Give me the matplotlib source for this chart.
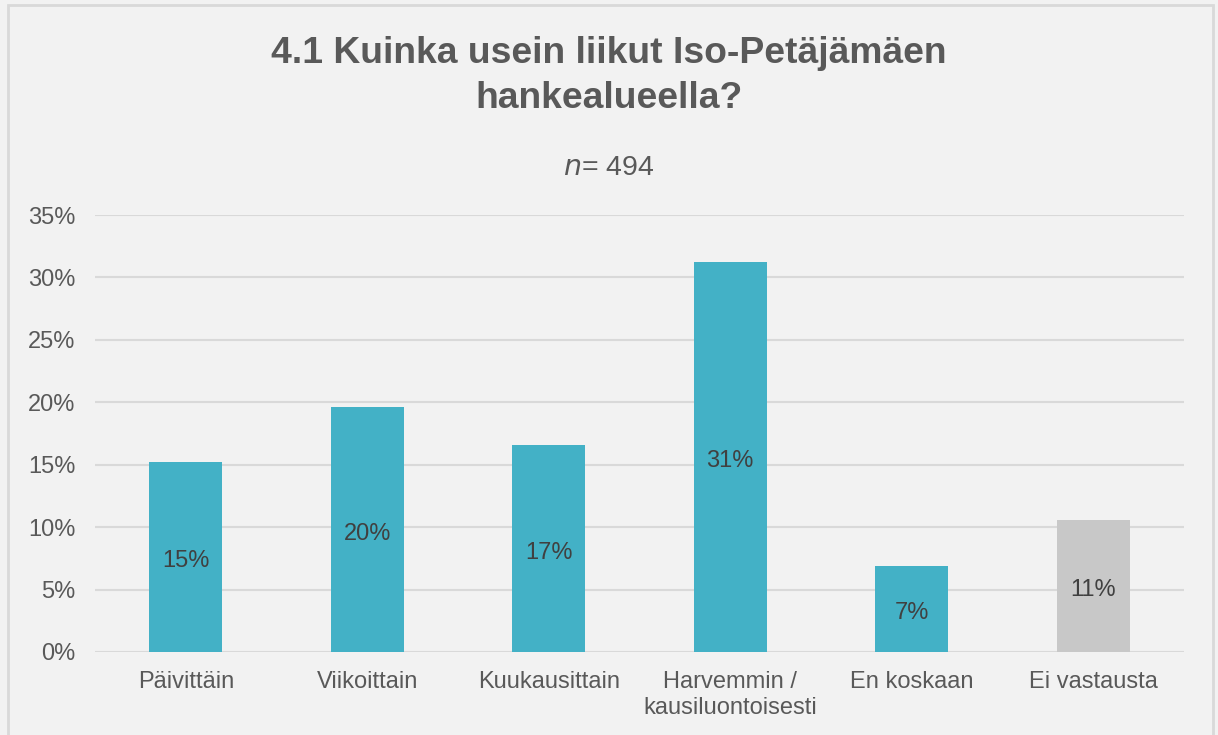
import matplotlib.pyplot as plt
from matplotlib.patches import Rectangle
from matplotlib.ticker import FuncFormatter

categories = ['Päivittäin', 'Viikoittain', 'Kuukausittain',
              'Harvemmin /\nkausiluontoisesti', 'En koskaan', 'Ei vastausta']
values = [15.2, 19.6, 16.6, 31.2, 6.9, 10.6]
labels = ['15%', '20%', '17%', '31%', '7%', '11%']
colors = ['#43B1C6'] * 5 + ['#C8C8C8']

plt.rcParams['font.family'] = ['Liberation Sans', 'DejaVu Sans']

fig = plt.figure(figsize=(12.18, 7.35), dpi=100, facecolor='#F2F2F2')
fig.patches.append(Rectangle((8 / 1218, -0.05), 1205 / 1218, 1.05 - 5 / 735,
                             transform=fig.transFigure, fill=False,
                             edgecolor='#D9D9D9', linewidth=2))

ax = fig.add_axes([95 / 1218, 1 - 652 / 735, 1089 / 1218, 437 / 735])
ax.set_facecolor('#F2F2F2')

x = range(len(categories))
bars = ax.bar(x, values, width=0.4, color=colors, zorder=3)
for b, lab in zip(bars, labels):
    ax.annotate(lab, (b.get_x() + b.get_width() / 2, b.get_height() / 2),
                xytext=(0, -3), textcoords='offset points',
                ha='center', va='center', fontsize=17, color='#404040', zorder=4)

ax.set_xlim(-0.5, len(categories) - 0.5)
ax.set_ylim(0, 35)
ax.set_yticks(range(0, 36, 5))
ax.yaxis.set_major_formatter(FuncFormatter(lambda v, p: f'{v:.0f}%'))
ax.set_xticks(list(x))
ax.set_xticklabels(categories, linespacing=1.2)
ax.tick_params(axis='both', length=0, labelsize=17, labelcolor='#595959')
ax.tick_params(axis='x', pad=14)
ax.tick_params(axis='y', pad=14)
ax.grid(axis='y', color='#D9D9D9', linewidth=1.5, zorder=0)
for s in ax.spines.values():
    s.set_visible(False)

fig.text(0.5, 1 - 76 / 735, '4.1 Kuinka usein liikut Iso-Petäjämäen\nhankealueella?',
         ha='center', va='center', fontsize=26.8, fontweight='bold',
         color='#595959', linespacing=1.35)
fig.text(0.5, 1 - 168 / 735, r'$\it{n}$= 494', ha='center', va='center',
         fontsize=20.5, color='#595959')

fig.savefig('out.png', dpi=100, facecolor=fig.get_facecolor())
